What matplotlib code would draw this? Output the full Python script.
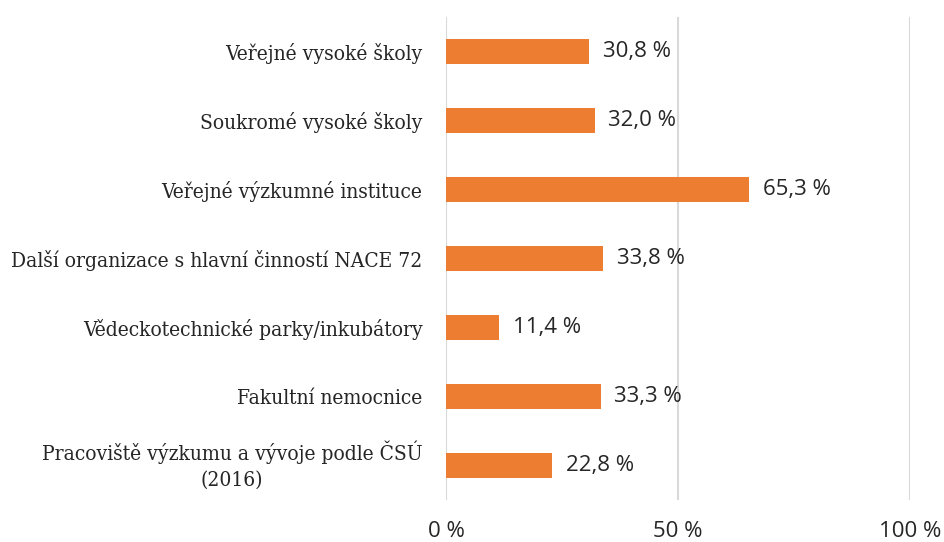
import matplotlib
matplotlib.use("Agg")
import matplotlib.pyplot as plt

categories = [
    "Veřejné vysoké školy",
    "Soukromé vysoké školy",
    "Veřejné výzkumné instituce",
    "Další organizace s hlavní činností NACE 72",
    "Vědeckotechnické parky/inkubátory",
    "Fakultní nemocnice",
    "Pracoviště výzkumu a vývoje podle ČSÚ\n(2016)",
]
values = [30.8, 32.0, 65.3, 33.8, 11.4, 33.3, 22.8]
xticks = [0, 50, 100]
xtick_labels = ["0 %", "50 %", "100 %"]

fig = plt.figure(figsize=(9.44, 5.42), dpi=100)
ax = fig.add_axes([0.4725, 0.0775, 0.4915, 0.891])

y = list(range(len(categories)))
ax.barh(y, values, height=0.35, color="#ED7D31", zorder=3)
ax.set_ylim(len(categories) - 0.5, -0.5)
ax.set_xlim(0, 100)

# value labels right of the bars
for yi, v in zip(y, values):
    ax.text(v + 3, yi, f"{v:.1f} %".replace(".", ","), va="center", ha="left",
            fontsize=16, family="Open Sans", color="#262626")

ax.set_yticks(y)
ax.set_yticklabels(categories, family="DejaVu Serif", fontstretch="condensed",
                   fontsize=15, color="#262626", multialignment="center",
                   linespacing=1.45)
# two-line label: centre the whole block on the bar
ax.get_yticklabels()[-1].set_verticalalignment("center")
ax.set_xticks(xticks)
ax.set_xticklabels(xtick_labels, family="Open Sans", fontsize=16, color="#262626")
ax.tick_params(axis="y", length=0, pad=17)
ax.tick_params(axis="x", length=0, pad=15)
ax.grid(axis="x", color="#D9D9D9", linewidth=1.5, zorder=0)
for s in ax.spines.values():
    s.set_visible(False)

fig.savefig("out.png", dpi=100)
